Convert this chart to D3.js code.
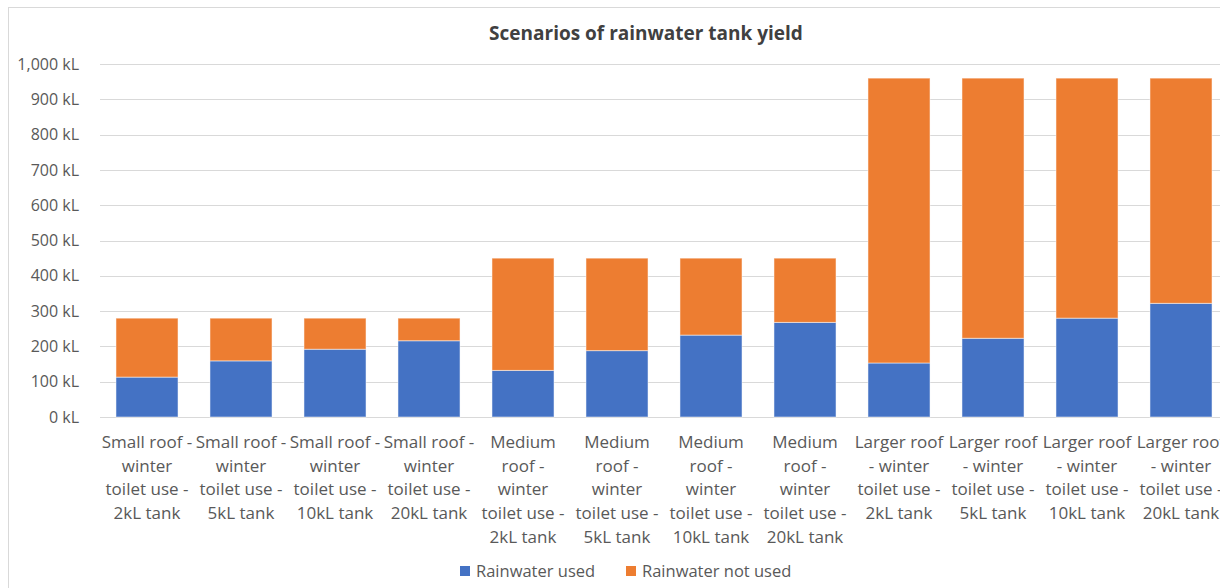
<!DOCTYPE html>
<html>
<head>
<meta charset="utf-8">
<script src="https://cdn.jsdelivr.net/npm/d3@7"></script>
<style>
  body { margin: 0; background: #fff; }
  text { font-family: "Open Sans", "Lato", sans-serif; }
</style>
</head>
<body>
<div id="chart"></div>
<script>
var categories = [
  "Small roof -\nwinter\ntoilet use -\n2kL tank",
  "Small roof -\nwinter\ntoilet use -\n5kL tank",
  "Small roof -\nwinter\ntoilet use -\n10kL tank",
  "Small roof -\nwinter\ntoilet use -\n20kL tank",
  "Medium\nroof -\nwinter\ntoilet use -\n2kL tank",
  "Medium\nroof -\nwinter\ntoilet use -\n5kL tank",
  "Medium\nroof -\nwinter\ntoilet use -\n10kL tank",
  "Medium\nroof -\nwinter\ntoilet use -\n20kL tank",
  "Larger roof\n- winter\ntoilet use -\n2kL tank",
  "Larger roof\n- winter\ntoilet use -\n5kL tank",
  "Larger roof\n- winter\ntoilet use -\n10kL tank",
  "Larger roof\n- winter\ntoilet use -\n20kL tank"
];
var rainwater_used     = [113, 159, 192, 216, 132, 188, 232, 268, 153, 223, 280, 322];
var rainwater_not_used = [167, 121,  88,  64, 318, 262, 218, 182, 807, 737, 680, 638];
var series_names = ["Rainwater used", "Rainwater not used"];
var series_colors = ["#4472C4", "#ED7D31"];
var y_ticks = [0, 100, 200, 300, 400, 500, 600, 700, 800, 900, 1000];

var svg_w = 1220, svg_h = 588;
var margin = {top: 64, left: 100, bottom: 171};
var plot_right = 1228;

var svg = d3.select("#chart").append("svg")
    .attr("width", svg_w)
    .attr("height", svg_h);

// chart border
svg.append("rect")
  .attr("x", 8.5).attr("y", 7.5)
  .attr("width", 1230).attr("height", 600)
  .attr("fill", "#fff")
  .attr("stroke", "#d9d9d9")
  .attr("stroke-width", 1);

var x = d3.scaleBand()
    .domain(d3.range(categories.length))
    .range([margin.left, plot_right])
    .paddingInner(0.34)
    .paddingOuter(0.17);

var y = d3.scaleLinear()
    .domain([0, 1000])
    .range([svg_h - margin.bottom, margin.top]);

// gridlines
svg.append("g")
  .selectAll("line")
  .data(y_ticks)
  .join("line")
    .attr("x1", margin.left)
    .attr("x2", plot_right)
    .attr("y1", function(d) { return Math.round(y(d)) + 0.5; })
    .attr("y2", function(d) { return Math.round(y(d)) + 0.5; })
    .attr("stroke", "#d9d9d9")
    .attr("stroke-width", 1);

// y axis labels
var y_axis = svg.append("g")
  .attr("transform", "translate(" + (margin.left - 18) + ",0)")
  .call(d3.axisLeft(y).tickValues(y_ticks).tickSize(0)
        .tickFormat(function(d) { return d3.format(",")(d) + " kL"; }));
y_axis.select(".domain").remove();
y_axis.selectAll("text")
  .attr("fill", "#595959")
  .attr("font-size", 16)
  .style("font-family", "'Open Sans', sans-serif");

// stacked bars
var rows = categories.map(function(c, i) {
  return {i: i, used: rainwater_used[i], not_used: rainwater_not_used[i]};
});
var stack = d3.stack().keys(["used", "not_used"])(rows);

svg.append("g")
  .selectAll("g")
  .data(stack)
  .join("g")
    .attr("fill", function(d, k) { return series_colors[k]; })
  .selectAll("rect")
  .data(function(d) { return d; })
  .join("rect")
    .attr("x", function(d) { return x(d.data.i); })
    .attr("width", x.bandwidth())
    .attr("y", function(d) { return y(d[1]); })
    .attr("height", function(d) { return y(d[0]) - y(d[1]); })
    .attr("stroke", "#fff")
    .attr("stroke-opacity", 0.5)
    .attr("stroke-width", 1);

// x labels
var x_labels = svg.append("g")
  .selectAll("text")
  .data(categories)
  .join("text")
    .attr("text-anchor", "middle")
    .attr("fill", "#595959")
    .attr("font-size", 17)
    .attr("x", function(d, i) { return x(i) + x.bandwidth() / 2; })
    .attr("y", 448);
x_labels.selectAll("tspan")
  .data(function(d) { return d.split("\n"); })
  .join("tspan")
    .attr("x", function() { return d3.select(this.parentNode).attr("x"); })
    .attr("dy", function(d, k) { return k === 0 ? 0 : 23.7; })
    .text(function(d) { return d; });

// title
svg.append("text")
  .attr("x", 646)
  .attr("y", 40)
  .attr("text-anchor", "middle")
  .attr("font-size", 19)
  .attr("font-weight", "bold")
  .attr("fill", "#404040")
  .text("Scenarios of rainwater tank yield");

// legend
var legend_x = [460, 626];
var legend = svg.append("g")
  .selectAll("g")
  .data(series_names)
  .join("g")
    .attr("transform", function(d, k) { return "translate(" + legend_x[k] + ",566)"; });
legend.append("rect")
  .attr("width", 10).attr("height", 10)
  .attr("fill", function(d, k) { return series_colors[k]; });
legend.append("text")
  .attr("x", 16)
  .attr("y", 11)
  .attr("font-size", 16.5)
  .attr("fill", "#595959")
  .text(function(d) { return d; });
</script>
</body>
</html>
